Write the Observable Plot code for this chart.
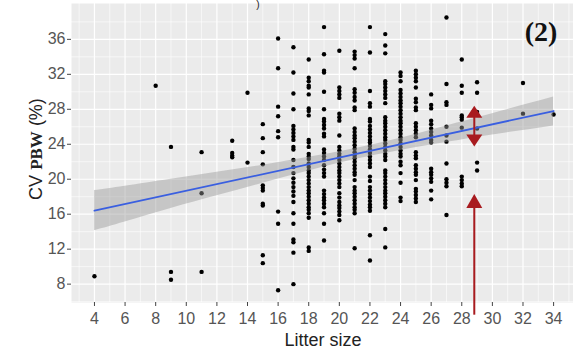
<!DOCTYPE html>
<html><head><meta charset="utf-8">
<script src="https://cdn.jsdelivr.net/npm/d3@7"></script>
<script src="https://cdn.jsdelivr.net/npm/@observablehq/plot@0.6"></script>
<style>
html,body{margin:0;padding:0;background:#fff;}
#chart svg{display:block;}
#chart [aria-label="x-axis tick"], #chart [aria-label="y-axis tick"]{stroke:#444;}
#chart [aria-label="x-axis tick label"], #chart [aria-label="y-axis tick label"]{fill:#555;}
</style></head><body><div id="chart"></div><script>
// CV of PBW (%) per litter size
const cv4 = [8.9];
const cv8 = [30.7];
const cv9 = [23.7, 9.4, 8.5];
const cv11 = [23.1, 18.4, 9.4];
const cv13 = [24.4, 23.0, 22.7, 22.5];
const cv14 = [29.9, 21.9];
const cv15 = [26.3, 24.7, 23.1, 21.7, 19.3, 19.0, 18.7, 17.2, 17.0, 11.3, 10.4];
const cv16 = [36.1, 32.7, 28.3, 27.2, 25.5, 24.8, 16.3, 14.9, 7.3];
const cv17 = [35.1, 32.2, 29.8, 28.0, 26.1, 25.7, 25.3, 24.9, 24.5, 23.7, 23.4, 22.2, 21.4, 20.7, 20.1, 19.6, 19.1, 18.6, 18.1, 17.4, 16.1, 14.9, 13.1, 12.8, 11.6, 8.0];
const cv18 = [33.7, 31.6, 31.2, 30.7, 30.5, 29.7, 28.1, 27.8, 27.3, 24.5, 24.2, 23.7, 22.9, 22.6, 22.3, 21.8, 21.4, 21.0, 20.7, 20.3, 19.9, 19.5, 19.1, 18.7, 18.4, 18.0, 17.6, 17.2, 16.8, 16.5, 16.1, 15.6, 12.2, 11.8];
const cv19 = [37.4, 34.3, 32.4, 32.2, 30.0, 28.0, 26.9, 26.6, 26.2, 25.8, 25.2, 24.9, 23.4, 23.0, 22.6, 22.2, 21.6, 21.1, 20.7, 20.3, 18.7, 18.3, 17.9, 17.6, 17.2, 16.8, 16.1, 14.9, 13.0];
const cv20 = [34.7, 30.5, 30.1, 29.7, 29.3, 27.5, 27.1, 26.7, 25.0, 23.7, 23.3, 22.9, 22.6, 22.2, 21.8, 21.4, 21.0, 20.7, 20.3, 19.9, 19.5, 19.1, 18.4, 17.9, 17.4, 17.0, 16.7, 16.3, 15.9, 15.3];
const cv21 = [34.6, 34.2, 33.8, 32.7, 30.3, 29.9, 29.4, 29.0, 28.2, 27.9, 25.8, 25.4, 25.0, 24.7, 24.3, 23.9, 23.5, 23.1, 22.7, 22.4, 22.0, 21.6, 21.2, 20.8, 20.5, 19.9, 19.1, 18.7, 18.4, 18.0, 17.6, 17.2, 16.8, 16.5, 16.1, 12.1];
const cv22 = [37.4, 34.5, 30.1, 28.7, 28.3, 26.9, 26.6, 26.1, 25.7, 25.3, 24.9, 24.5, 24.2, 23.8, 23.4, 23.0, 22.6, 22.2, 21.8, 21.4, 20.3, 19.8, 19.1, 18.7, 18.3, 17.9, 17.5, 17.1, 16.8, 16.4, 13.6, 10.7];
const cv23 = [36.6, 35.3, 34.4, 31.2, 30.9, 30.5, 30.1, 29.7, 29.3, 28.7, 27.1, 26.7, 26.4, 26.0, 25.6, 25.2, 24.8, 24.5, 24.1, 23.7, 23.3, 22.9, 22.6, 22.2, 21.0, 20.7, 20.3, 19.9, 19.5, 19.1, 18.7, 18.4, 18.0, 17.6, 17.2, 16.8, 14.3, 12.2];
const cv24 = [32.2, 31.8, 31.2, 30.2, 29.8, 29.4, 29.0, 28.7, 28.3, 27.9, 27.5, 27.1, 26.7, 26.4, 26.0, 25.6, 25.2, 24.8, 24.5, 24.1, 23.7, 23.3, 22.9, 22.6, 22.0, 21.6, 20.7, 19.6, 17.9, 17.5];
const cv25 = [32.4, 32.0, 31.6, 31.2, 30.5, 29.2, 28.8, 28.2, 27.9, 26.4, 26.0, 25.6, 25.2, 24.8, 23.1, 22.7, 22.4, 21.6, 21.2, 20.8, 20.5, 19.9, 18.9, 18.6, 18.2, 17.8, 17.4];
const cv26 = [29.7, 28.5, 28.1, 26.7, 26.3, 25.8, 25.4, 25.0, 24.5, 24.2, 21.2, 20.8, 20.5, 20.1, 19.7, 18.7, 17.7];
const cv27 = [38.5, 30.9, 28.8, 28.5, 26.0, 25.0, 24.3, 21.8, 20.0, 19.6, 19.2, 15.9];
const cv28 = [33.7, 30.7, 29.9, 27.3, 27.1, 26.8, 25.9, 20.3, 19.9, 19.5, 19.2];
const cv29 = [31.1, 29.9, 27.7, 25.8, 21.9, 21.0];
const cv32 = [31.0, 27.5];
const cv34 = [27.4];

// linear fit and its confidence band
const fitX = [4, 34];
const fitY = [16.4, 27.8];
const bandX = [4, 6, 9, 12, 15, 18, 21, 24, 27, 30, 34];
const bandLo = [14.1, 15.1, 16.65, 18.1, 19.55, 20.95, 22.25, 23.3, 24.2, 25.05, 26.1];
const bandHi = [18.7, 19.2, 20.0, 20.8, 21.6, 22.5, 23.5, 24.7, 26.1, 27.5, 29.4];

// ticks / grid
const xTicks = [4, 6, 8, 10, 12, 14, 16, 18, 20, 22, 24, 26, 28, 30, 32, 34];
const xMinor = [3, 5, 7, 9, 11, 13, 15, 17, 19, 21, 23, 25, 27, 29, 31, 33, 35];
const yTicks = [8, 12, 16, 20, 24, 28, 32, 36];
const yMinor = [6, 10, 14, 18, 22, 26, 30, 34, 38];

// red annotation arrows (data units)
const arrowX = 28.85;
const doubleArrowY = [28.35, 23.7];
const upArrowY = [18.25, 4.45];

const columns = [[4, cv4], [8, cv8], [9, cv9], [11, cv11], [13, cv13], [14, cv14], [15, cv15], [16, cv16], [17, cv17], [18, cv18], [19, cv19], [20, cv20], [21, cv21], [22, cv22], [23, cv23], [24, cv24], [25, cv25], [26, cv26], [27, cv27], [28, cv28], [29, cv29], [32, cv32], [34, cv34]];
const points = columns.flatMap(([x, ys]) => ys.map(y => ({x, y})));
const band = bandX.map((x, i) => ({x, lo: bandLo[i], hi: bandHi[i]}));
const fit = fitX.map((x, i) => ({x, y: fitY[i]}));

const plot = Plot.plot({
  width: 573, height: 350,
  marginLeft: 71, marginRight: 0, marginTop: 3, marginBottom: 48,
  style: {fontFamily: "'Liberation Sans', Arial, sans-serif", fontSize: "16px", background: "white"},
  x: {domain: [2.5, 35.3]},
  y: {domain: [5.9, 40.1]},
  marks: [
    Plot.frame({fill: "#ebebeb", stroke: "none"}),
    Plot.ruleX(xMinor, {stroke: "#fff", strokeWidth: 0.6}),
    Plot.ruleY(yMinor, {stroke: "#fff", strokeWidth: 0.6}),
    Plot.ruleX(xTicks, {stroke: "#fff", strokeWidth: 1.2}),
    Plot.ruleY(yTicks, {stroke: "#fff", strokeWidth: 1.2}),
    Plot.axisX({ticks: xTicks, tickSize: 4, tickPadding: 6, label: null, fontSize: 16}),
    Plot.axisY({ticks: yTicks, tickSize: 4, tickPadding: 2, label: null, fontSize: 16}),
    Plot.dot(points, {x: "x", y: "y", r: 2.2, fill: "#000", stroke: "none"}),
    Plot.areaY(band, {x: "x", y1: "lo", y2: "hi", fill: "#999", fillOpacity: 0.45, curve: "natural"}),
    Plot.line(fit, {x: "x", y: "y", stroke: "#3a5fe0", strokeWidth: 1.8})
  ]
});
document.getElementById("chart").appendChild(plot);

const sx = plot.scale("x"), sy = plot.scale("y");
const svg = d3.select(plot);
const red = "#a81b1f";
const ax = sx.apply(arrowX);
const hw = 8, hl = 12;
// double arrow
{
  const t = sy.apply(doubleArrowY[0]), b = sy.apply(doubleArrowY[1]);
  svg.append("line").attr("x1", ax).attr("x2", ax).attr("y1", t + hl - 1).attr("y2", b - hl + 1).attr("stroke", red).attr("stroke-width", 2);
  svg.append("polygon").attr("points", `${ax},${t} ${ax - hw},${t + hl} ${ax + hw},${t + hl}`).attr("fill", red);
  svg.append("polygon").attr("points", `${ax},${b} ${ax - hw},${b - hl} ${ax + hw},${b - hl}`).attr("fill", red);
}
// up arrow
{
  const t = sy.apply(upArrowY[0]), b = sy.apply(upArrowY[1]);
  svg.append("line").attr("x1", ax).attr("x2", ax).attr("y1", t + hl - 1).attr("y2", b).attr("stroke", red).attr("stroke-width", 2);
  svg.append("polygon").attr("points", `${ax},${t} ${ax - hw},${t + hl + 2} ${ax + hw},${t + hl + 2}`).attr("fill", red);
}

// axis titles
svg.append("text").attr("x", 323).attr("y", 346).attr("text-anchor", "middle")
  .attr("font-size", 18).attr("fill", "#222").text("Litter size");
const yt = svg.append("text").attr("transform", "translate(42,149) rotate(-90)")
  .attr("text-anchor", "middle").attr("font-size", 18).attr("fill", "#222");
yt.append("tspan").text("CV ");
yt.append("tspan").attr("font-family", "'Liberation Serif', 'Times New Roman', serif")
  .attr("font-weight", "bold").attr("font-size", 17).text("PBW");
yt.append("tspan").text(" (%)");

// panel tag
svg.append("text").attr("x", 541).attr("y", 41).attr("text-anchor", "middle")
  .attr("font-family", "'Liberation Serif', 'Times New Roman', serif").attr("font-weight", "bold")
  .attr("font-size", 28).attr("fill", "#111").text("(2)");
// small remnant glyph of a title above the panel
svg.append("text").attr("x", 258).attr("y", 8).attr("font-size", 10).attr("fill", "#222").text(")");
</script></body></html>
